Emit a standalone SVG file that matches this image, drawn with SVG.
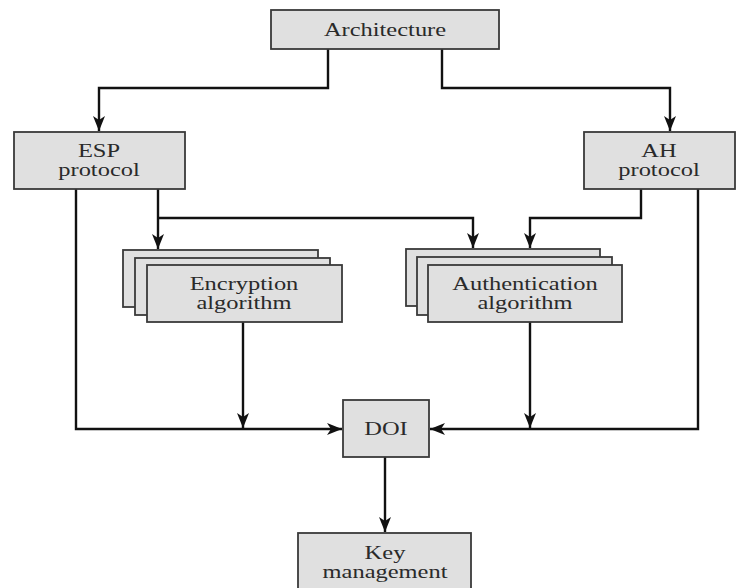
<svg xmlns="http://www.w3.org/2000/svg" width="744" height="588" viewBox="0 0 744 588">
<style>
.box{fill:#e0e0e0;stroke:#3a3a3a;stroke-width:1.8}
.lbl{font-family:"Liberation Serif","Times New Roman",serif;font-size:18px;fill:#2a2a2a;text-anchor:middle}
.conn{fill:none;stroke:#111;stroke-width:2.4}
</style>
<defs>
<marker id="arr" markerUnits="userSpaceOnUse" markerWidth="16" markerHeight="14" refX="15" refY="7" orient="auto">
<path d="M0,1 L15,7 L0,13 L4,7 z" fill="#111"/>
</marker>
</defs>
<rect width="744" height="588" fill="#fff"/>
<g id="connectors" class="conn" marker-end="url(#arr)">
<path d="M328,49 V88 H99 V131"/>
<path d="M442,49 V88 H670 V131"/>
<path d="M158,189 V249"/>
<path d="M158,218 H473 V248"/>
<path d="M641,189 V218 H530 V248"/>
<path d="M76,189 V429 H342"/>
<path d="M243,322 V428"/>
<path d="M530,322 V428"/>
<path d="M698,189 V429 H430"/>
<path d="M385,457 V532"/>
</g>
<g id="architecture">
<rect class="box" x="271" y="10" width="228" height="39"/>
<text class="lbl" transform="translate(385,36) scale(1.36,1)">Architecture</text>
</g>
<g id="esp">
<rect class="box" x="14" y="132" width="171" height="57"/>
<text class="lbl" transform="translate(99,157) scale(1.36,1)">ESP</text>
<text class="lbl" transform="translate(99,176) scale(1.36,1)">protocol</text>
</g>
<g id="ah">
<rect class="box" x="584" y="132" width="151" height="57"/>
<text class="lbl" transform="translate(659,157) scale(1.36,1)">AH</text>
<text class="lbl" transform="translate(659,176) scale(1.36,1)">protocol</text>
</g>
<g id="encryption">
<rect class="box" x="123" y="250" width="195" height="57"/>
<rect class="box" x="135" y="258" width="195" height="57"/>
<rect class="box" x="147" y="265" width="195" height="57"/>
<text class="lbl" transform="translate(244,290) scale(1.36,1)">Encryption</text>
<text class="lbl" transform="translate(244,309) scale(1.36,1)">algorithm</text>
</g>
<g id="authentication">
<rect class="box" x="406" y="249" width="194" height="57"/>
<rect class="box" x="417" y="257" width="195" height="58"/>
<rect class="box" x="428" y="265" width="194" height="57"/>
<text class="lbl" transform="translate(525,290) scale(1.36,1)">Authentication</text>
<text class="lbl" transform="translate(525,309) scale(1.36,1)">algorithm</text>
</g>
<g id="doi">
<rect class="box" x="343" y="400" width="86" height="57"/>
<text class="lbl" transform="translate(386,435) scale(1.36,1)">DOI</text>
</g>
<g id="key">
<rect class="box" x="298" y="533" width="173" height="60"/>
<text class="lbl" transform="translate(385,559) scale(1.36,1)">Key</text>
<text class="lbl" transform="translate(385,578) scale(1.36,1)">management</text>
</g>
</svg>
